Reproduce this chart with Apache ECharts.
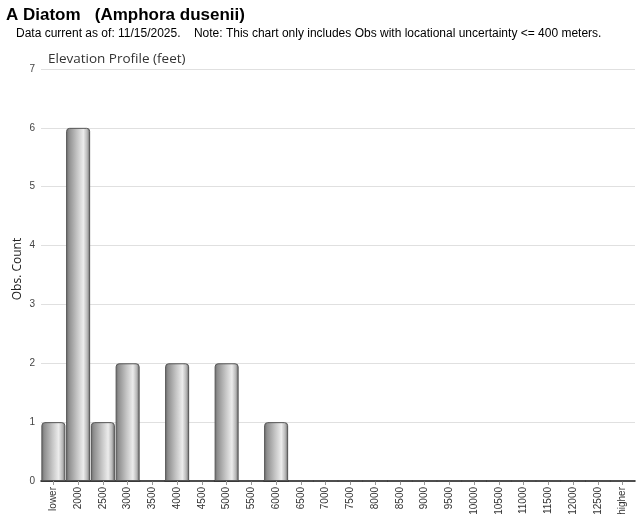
<!DOCTYPE html>
<html><head><meta charset="utf-8">
<script src="https://cdn.jsdelivr.net/npm/echarts@6/dist/echarts.min.js"></script>
<style>html,body{margin:0;padding:0;background:#fff}#c{width:640px;height:523px}</style>
</head><body><div id="c"></div>
<script>
const categories = ["lower","2000","2500","3000","3500","4000","4500","5000","5500","6000","6500","7000","7500","8000","8500","9000","9500","10000","10500","11000","11500","12000","12500","higher"];
const counts = [1,6,1,2,0,2,0,2,0,1,0,0,0,0,0,0,0,0,0,0,0,0,0,0];
const yTicks = [0,1,2,3,4,5,6,7];

const chart = echarts.init(document.getElementById('c'), null, {renderer:'canvas'});
const grad = new echarts.graphic.LinearGradient(0,0,1,0,[
  {offset:0,color:'#6a6a6a'},
  {offset:0.12,color:'#8f8f8f'},
  {offset:0.45,color:'#c4c4c4'},
  {offset:0.72,color:'#ececec'},
  {offset:0.88,color:'#b8b8b8'},
  {offset:1,color:'#666666'}
]);
chart.setOption({
  animation:false,
  title:[
    {text:'A Diatom   (Amphora dusenii)', left:1, top:2, textStyle:{fontFamily:'Liberation Sans, Arial', fontSize:17, fontWeight:'bold', color:'#000'}},
    {text:'Data current as of: 11/15/2025.    Note: This chart only includes Obs with locational uncertainty <= 400 meters.', left:11, top:23, textStyle:{fontFamily:'Liberation Sans, Arial', fontSize:12, fontWeight:'normal', color:'#000'}},
    {text:'Elevation Profile (feet)', left:43, top:47, textStyle:{fontFamily:'Open Sans, DejaVu Sans', fontSize:13.5, fontWeight:'normal', color:'#333'}}
  ],
  graphic:[{type:'text', x:18, y:269, rotation:Math.PI/2,
    style:{text:'Obs. Count', font:'12px "Open Sans", "DejaVu Sans"', fill:'#222', align:'center', verticalAlign:'middle'}}],
  grid:{left:41, right:5, top:69, bottom:42, containLabel:false},
  xAxis:{type:'category', data:categories,
    axisLine:{lineStyle:{color:'#000', width:1.5}},
    axisTick:{show:true, alignWithLabel:true, length:4, lineStyle:{color:'#999'}},
    axisLabel:{rotate:90, interval:0, fontSize:10, color:'#333', fontFamily:'Liberation Sans, Arial', margin:6}},
  yAxis:{type:'value', min:0, max:7, interval:1,
    axisLine:{show:false}, axisTick:{show:false},
    axisLabel:{fontSize:10, color:'#444', fontFamily:'Liberation Sans, Arial', margin:6},
    splitLine:{lineStyle:{color:'#e0e0e0', width:1}}},
  series:[{type:'bar', data:counts, barCategoryGap:'3%',
    itemStyle:{color:grad, borderColor:'#555', borderWidth:1, borderRadius:[3,3,0,0]}}]
});
</script></body></html>
